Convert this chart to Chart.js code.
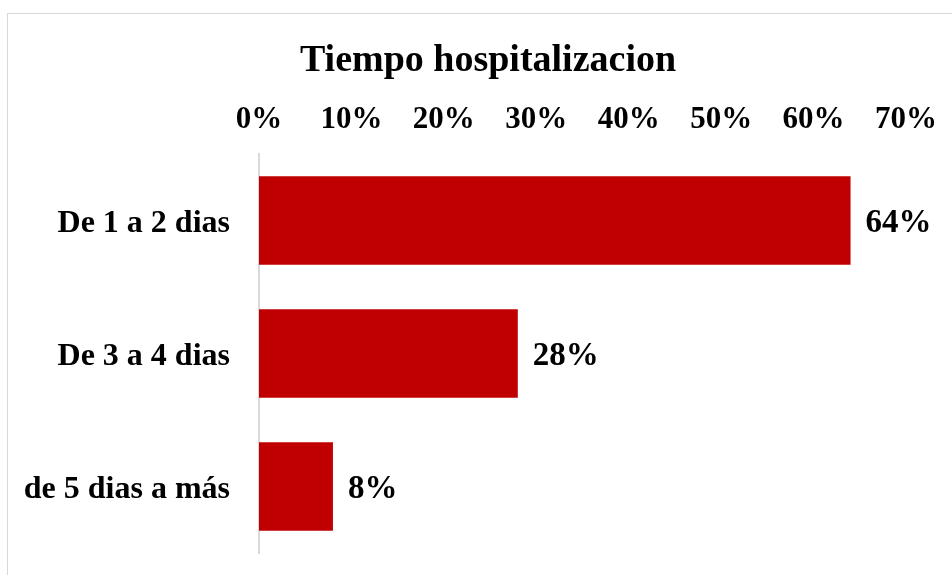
<!DOCTYPE html>
<html>
<head>
<meta charset="utf-8">
<script src="https://cdn.jsdelivr.net/npm/chart.js@4"></script>
<style>
html,body{margin:0;padding:0;background:#fff;overflow:hidden;}
#wrap{position:relative;width:952px;height:575px;}
#frame{position:absolute;left:7px;top:13px;width:960px;height:600px;border:1px solid #d9d9d9;box-sizing:border-box;}
canvas{position:absolute;left:0;top:0;}
</style>
</head>
<body>
<div id="wrap">
<div id="frame"></div>
<canvas id="c" width="952" height="575"></canvas>
</div>
<script>
const chartTitle = "Tiempo hospitalizacion";
const categories = ["De 1 a 2 dias", "De 3 a 4 dias", "de 5 dias a más"];
const values = [64, 28, 8];
const xTicks = [0, 10, 20, 30, 40, 50, 60, 70];

const FONT = "'Liberation Serif', 'Times New Roman', serif";

const overlay = {
  id: 'overlay',
  afterDraw(chart) {
    const ctx = chart.ctx;
    ctx.save();
    ctx.fillStyle = '#000';
    ctx.font = 'bold 38px ' + FONT;
    ctx.textAlign = 'center';
    ctx.textBaseline = 'middle';
    ctx.fillText(chartTitle, 488, 61);
    const meta = chart.getDatasetMeta(0);
    ctx.font = 'bold 33px ' + FONT;
    ctx.textAlign = 'left';
    meta.data.forEach((bar, i) => {
      ctx.fillText(values[i] + '%', bar.x + 15, bar.y + 3);
    });
    ctx.restore();
  }
};

new Chart(document.getElementById('c'), {
  type: 'bar',
  data: {
    labels: categories,
    datasets: [{
      data: values,
      backgroundColor: '#c00000',
      borderWidth: 0,
      categoryPercentage: 1,
      barPercentage: 0.665
    }]
  },
  options: {
    indexAxis: 'y',
    responsive: false,
    animation: false,
    devicePixelRatio: 1,
    layout: { padding: { top: 96, left: 0, right: 45, bottom: 22 } },
    plugins: { legend: { display: false }, tooltip: { enabled: false }, title: { display: false } },
    scales: {
      x: {
        position: 'top',
        min: 0, max: 70,
        afterBuildTicks(axis) { axis.ticks = xTicks.map(v => ({ value: v })); },
        afterFit(axis) { axis.height = 58; },
        grid: { display: false, drawTicks: false },
        border: { display: false },
        ticks: {
          color: '#000',
          font: { family: FONT, size: 31, weight: 'bold' },
          padding: 15,
          maxRotation: 0,
          callback: v => v + '%'
        }
      },
      y: {
        afterFit(axis) { axis.width = 259; axis.paddingTop = 0; axis.paddingBottom = 0; },
        grid: { display: false, drawTicks: false },
        border: { display: true, color: '#d9d9d9', width: 2 },
        ticks: {
          color: '#000',
          font: { family: FONT, size: 32, weight: 'bold' },
          padding: 29,
          labelOffset: 3
        }
      }
    }
  },
  plugins: [overlay]
});
</script>
</body>
</html>
